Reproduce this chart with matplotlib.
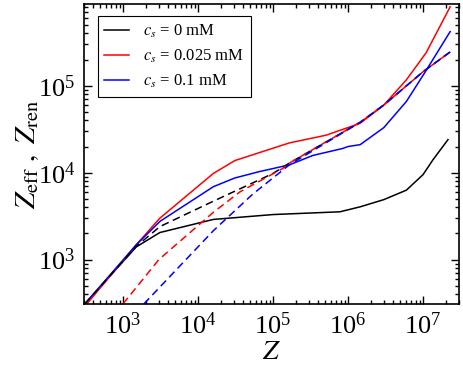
import matplotlib.pyplot as plt
from matplotlib.ticker import LogLocator, NullFormatter

plt.rcParams['font.family'] = ['Liberation Serif', 'DejaVu Serif']
plt.rcParams['mathtext.fontset'] = 'stix'

# Z_eff (solid lines)
z_eff_0 = [310, 1500, 3100, 16000, 1e5, 7.8e5, 1.45e6, 3e6, 6e6, 1e7, 1.35e7, 2.15e7]
eff_0 = [310, 1400, 2050, 2900, 3300, 3550, 4050, 4900, 6300, 9500, 14000, 24000]

z_eff_025 = [330, 1500, 3100, 16000, 31000, 1.65e5, 5.1e5, 1.45e6, 3e6, 6e6, 1.1e7, 2.3e7]
eff_025 = [310, 1480, 3000, 9800, 13800, 22000, 27000, 37000, 60000, 1.17e5, 2.4e5, 8.1e5]

z_eff_01 = [310, 1500, 3100, 16000, 31000, 66000, 1.65e5, 3.4e5, 8.5e5, 1e6, 1.45e6, 3e6, 6e6, 1.1e7, 2.3e7]
eff_01 = [310, 1480, 2750, 6900, 8700, 10300, 12300, 15800, 19000, 20000, 21000, 33000, 66000, 1.5e5, 4.2e5]

# Z_ren (dashed lines)
z_ren_0 = [310, 1500, 3100, 16000, 1e5, 1.65e5, 1.45e6, 3e6, 1e7, 2.3e7]
ren_0 = [310, 1420, 2400, 4700, 9800, 12900, 38000, 60000, 1.45e5, 2.45e5]

z_ren_025 = [1000, 3000, 16000, 36000, 1.35e5, 1.65e5, 1.45e6, 3e6, 1e7, 2.3e7]
ren_025 = [310, 1000, 3500, 6000, 11200, 12900, 38000, 60000, 1.45e5, 2.45e5]

z_ren_01 = [1900, 16000, 54000, 1.65e5, 1.45e6, 3e6, 1e7, 2.3e7]
ren_01 = [310, 2150, 5700, 12300, 38000, 60000, 1.45e5, 2.45e5]

labels = ['$c_s$ = 0 mM', '$c_s$ = 0.025 mM', '$c_s$ = 0.1 mM']
colors = ['black', 'red', 'blue']

fig = plt.figure(figsize=(4.63, 3.71), dpi=100)
ax = fig.add_axes([0.181, 0.181, 0.81, 0.808])

eff_x = [z_eff_0, z_eff_025, z_eff_01]
eff_y = [eff_0, eff_025, eff_01]
ren_x = [z_ren_0, z_ren_025, z_ren_01]
ren_y = [ren_0, ren_025, ren_01]

for c, lab, ex, ey in zip(colors, labels, eff_x, eff_y):
    ax.plot(ex, ey, color=c, lw=1.1, label=lab)
for c, rx, ry in zip(colors, ren_x, ren_y):
    ax.plot(rx, ry, color=c, lw=1.1, dashes=[5, 3])

ax.set_xscale('log')
ax.set_yscale('log')
ax.set_xlim(300, 3e7)
ax.set_ylim(310, 8.7e5)

# every decade labelled
for axis in (ax.xaxis, ax.yaxis):
    axis.set_major_locator(LogLocator(base=10, numticks=20))
    axis.set_minor_locator(LogLocator(base=10, subs=range(2, 10), numticks=20))
    axis.set_minor_formatter(NullFormatter())

ax.tick_params(which='both', direction='in', top=True, right=True, labelsize=19, width=1, pad=6)
ax.tick_params(which='major', length=6)
ax.tick_params(which='minor', length=3)
for s in ax.spines.values():
    s.set_linewidth(1.2)

ax.set_xlabel('$Z$', fontsize=20, labelpad=1)
ax.set_ylabel(r'$Z_{\mathrm{eff}}\ ,\ Z_{\mathrm{ren}}$', fontsize=21, labelpad=-2)

leg = ax.legend(loc='upper left', bbox_to_anchor=(0.037, 0.96), borderaxespad=0,
                fontsize=12, fancybox=False, edgecolor='black', framealpha=1,
                handlelength=1.5, borderpad=0.4, labelspacing=0.45)
leg.get_frame().set_linewidth(0.8)

fig.savefig('out.png', dpi=100)
